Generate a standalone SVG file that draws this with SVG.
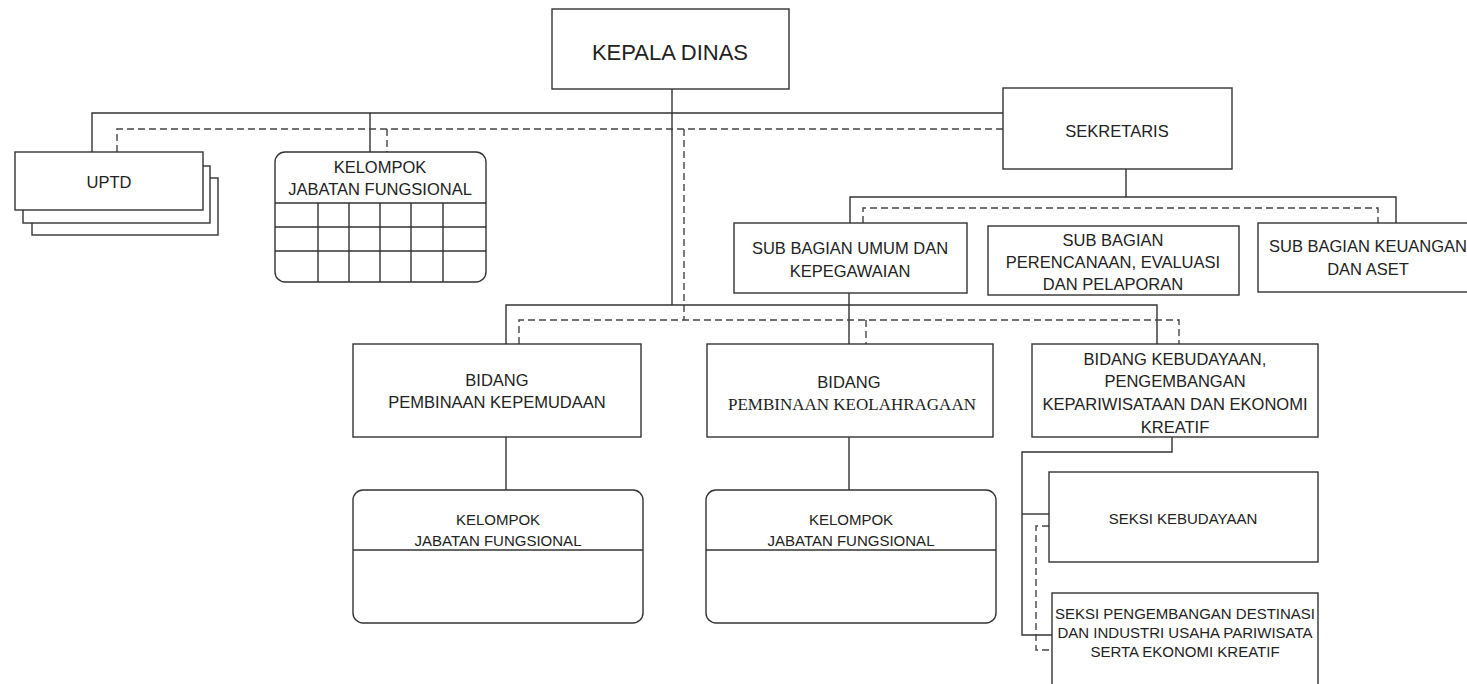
<svg xmlns="http://www.w3.org/2000/svg" width="1467" height="684" viewBox="0 0 1467 684">
<style>
.box{fill:#fff;stroke:#333;stroke-width:1.4}
.ln{fill:none;stroke:#333;stroke-width:1.4}
.ds{fill:none;stroke:#444;stroke-width:1.4;stroke-dasharray:7 4}
.t{font-family:"Liberation Sans",Arial,sans-serif;font-size:16.5px;fill:#222;text-anchor:middle}
.s{font-size:15px}
.big{font-size:22px}
.serif{font-family:"Liberation Serif","Times New Roman",serif;font-size:17px}
</style>
<rect width="1467" height="684" fill="#fff"/>
<g id="connectors">
<path class="ln" d="M672,89 V305"/>
<path class="ln" d="M92,152 V113 H1003"/>
<path class="ln" d="M370,113 V152"/>
<path class="ds" d="M117,152 V129 H1003"/>
<path class="ds" d="M387,129 V152"/>
<path class="ds" d="M684,129 V320"/>
<path class="ln" d="M1126,169 V197"/>
<path class="ln" d="M850,223 V197 H1396 V223"/>
<path class="ds" d="M863,223 V208 H1378 V223"/>
<path class="ln" d="M506,344 V305 H1157 V344"/>
<path class="ln" d="M849,293 V344"/>
<path class="ds" d="M519,344 V320 H1179 V344"/>
<path class="ds" d="M866,320 V344"/>
<path class="ln" d="M506,437 V490"/>
<path class="ln" d="M849,437 V490"/>
<path class="ln" d="M1172,437 V452 H1022 V635 H1052"/>
<path class="ln" d="M1022,514 H1049"/>
<path class="ds" d="M1049,526 H1036 V650 H1052"/>
</g>
<g id="kepala-dinas">
<rect class="box" x="552" y="9" width="237" height="80"/>
<text class="t big" x="670" y="60">KEPALA DINAS</text>
</g>
<g id="uptd">
<rect class="box" x="32" y="178" width="186" height="57"/>
<rect class="box" x="23" y="166" width="187" height="57"/>
<rect class="box" x="15" y="152" width="188" height="58"/>
<text class="t" x="109" y="188">UPTD</text>
</g>
<g id="kelompok-atas">
<rect class="box" x="275" y="152" width="211" height="130" rx="10"/>
<path class="ln" d="M275,203 H486 M275,227 H486 M275,251 H486 M318,203 V282 M349,203 V282 M380,203 V282 M411,203 V282 M443,203 V282"/>
<text class="t" x="380" y="173">KELOMPOK</text>
<text class="t" x="380" y="195">JABATAN FUNGSIONAL</text>
</g>
<g id="sekretaris">
<rect class="box" x="1003" y="88" width="229" height="81"/>
<text class="t" x="1117" y="137">SEKRETARIS</text>
</g>
<g id="subbag-umum">
<rect class="box" x="734" y="223" width="233" height="70"/>
<text class="t" x="850" y="254">SUB BAGIAN UMUM DAN</text>
<text class="t" x="850" y="277">KEPEGAWAIAN</text>
</g>
<g id="subbag-perencanaan">
<rect class="box" x="988" y="226" width="251" height="69"/>
<text class="t" x="1113" y="246">SUB BAGIAN</text>
<text class="t" x="1113" y="268">PERENCANAAN, EVALUASI</text>
<text class="t" x="1113" y="290">DAN PELAPORAN</text>
</g>
<g id="subbag-keuangan">
<rect class="box" x="1258" y="223" width="222" height="69"/>
<text class="t" x="1368" y="252">SUB BAGIAN KEUANGAN</text>
<text class="t" x="1368" y="275">DAN ASET</text>
</g>
<g id="bidang-kepemudaan">
<rect class="box" x="353" y="344" width="288" height="93"/>
<text class="t" x="497" y="386">BIDANG</text>
<text class="t" x="497" y="408">PEMBINAAN KEPEMUDAAN</text>
</g>
<g id="bidang-keolahragaan">
<rect class="box" x="707" y="344" width="286" height="93"/>
<text class="t" x="849" y="388">BIDANG</text>
<text class="t serif" x="852" y="410">PEMBINAAN KEOLAHRAGAAN</text>
</g>
<g id="bidang-kebudayaan">
<rect class="box" x="1032" y="344" width="286" height="93"/>
<text class="t" x="1175" y="365">BIDANG KEBUDAYAAN,</text>
<text class="t" x="1175" y="387">PENGEMBANGAN</text>
<text class="t" x="1175" y="410">KEPARIWISATAAN DAN EKONOMI</text>
<text class="t" x="1175" y="433">KREATIF</text>
</g>
<g id="kelompok-kepemudaan">
<rect class="box" x="353" y="490" width="290" height="133" rx="10"/>
<path class="ln" d="M353,550 H643"/>
<text class="t s" x="498" y="525">KELOMPOK</text>
<text class="t s" x="498" y="546">JABATAN FUNGSIONAL</text>
</g>
<g id="kelompok-keolahragaan">
<rect class="box" x="706" y="490" width="290" height="133" rx="10"/>
<path class="ln" d="M706,550 H996"/>
<text class="t s" x="851" y="525">KELOMPOK</text>
<text class="t s" x="851" y="546">JABATAN FUNGSIONAL</text>
</g>
<g id="seksi-kebudayaan">
<rect class="box" x="1049" y="472" width="269" height="90"/>
<text class="t s" x="1183" y="524">SEKSI KEBUDAYAAN</text>
</g>
<g id="seksi-pengembangan">
<rect class="box" x="1052" y="593" width="266" height="100"/>
<text class="t s" x="1185" y="619">SEKSI PENGEMBANGAN DESTINASI</text>
<text class="t s" x="1185" y="638">DAN INDUSTRI USAHA PARIWISATA</text>
<text class="t s" x="1185" y="657">SERTA EKONOMI KREATIF</text>
</g>
</svg>
